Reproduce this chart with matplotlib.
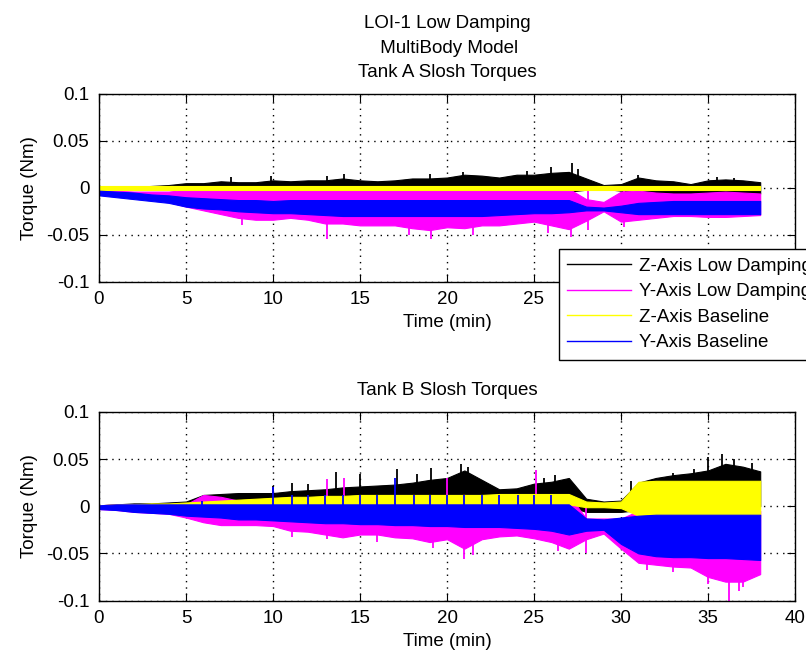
import numpy as np
import matplotlib
matplotlib.use("Agg")
import matplotlib.pyplot as plt
from matplotlib.lines import Line2D

plt.rcParams['font.family'] = ['Liberation Sans', 'DejaVu Sans']

# ---------------- data ----------------
time_min = list(range(0, 39))  # 0 .. 38 min

# Tank A envelopes (Nm)
a_zlow_hi = [0.001, 0.001, 0.001, 0.002, 0.003, 0.005, 0.005, 0.007, 0.006, 0.006,
             0.008, 0.007, 0.008, 0.008, 0.010, 0.008, 0.007, 0.008, 0.010, 0.010,
             0.011, 0.014, 0.013, 0.011, 0.014, 0.014, 0.016, 0.017, 0.010, 0.003,
             0.004, 0.011, 0.008, 0.007, 0.004, 0.008, 0.009, 0.008, 0.006]
a_zlow_lo = [0.000, -0.001, -0.001, -0.002, -0.002, -0.003, -0.003, -0.004, -0.004, -0.004,
             -0.004, -0.004, -0.004, -0.004, -0.004, -0.004, -0.004, -0.004, -0.004, -0.004,
             -0.004, -0.004, -0.004, -0.004, -0.004, -0.004, -0.004, -0.004, -0.002, -0.001,
             -0.003, -0.006, -0.006, -0.006, -0.006, -0.008, -0.008, -0.008, -0.006]
a_ylow_hi = [-0.002, -0.003, -0.004, -0.004, -0.004, -0.002, -0.001, -0.001, -0.001, -0.001,
             -0.001, -0.001, -0.001, -0.001, -0.001, -0.001, -0.001, -0.001, -0.001, -0.001,
             -0.001, -0.001, -0.001, -0.001, -0.001, -0.001, -0.001, -0.001, -0.012, -0.015,
             -0.004, -0.003, -0.005, -0.006, -0.006, -0.005, -0.004, -0.005, -0.006]
a_ylow_lo = [-0.006, -0.008, -0.010, -0.012, -0.015, -0.020, -0.024, -0.028, -0.032, -0.034,
             -0.034, -0.032, -0.034, -0.038, -0.038, -0.040, -0.040, -0.040, -0.043, -0.045,
             -0.042, -0.043, -0.040, -0.040, -0.038, -0.036, -0.040, -0.044, -0.035, -0.025,
             -0.036, -0.034, -0.032, -0.030, -0.030, -0.031, -0.031, -0.030, -0.029]
a_zbase_hi = [0.002] * 39
a_zbase_lo = [-0.002] * 39
a_ybase_hi = [-0.003, -0.004, -0.005, -0.007, -0.008, -0.010, -0.011, -0.012, -0.013, -0.013,
              -0.014, -0.013, -0.013, -0.013, -0.013, -0.013, -0.013, -0.013, -0.013, -0.013,
              -0.013, -0.013, -0.013, -0.013, -0.013, -0.013, -0.013, -0.013, -0.020, -0.021,
              -0.019, -0.016, -0.015, -0.014, -0.014, -0.014, -0.014, -0.014, -0.014]
a_ybase_lo = [-0.008, -0.010, -0.012, -0.014, -0.016, -0.020, -0.022, -0.023, -0.025, -0.026,
              -0.027, -0.027, -0.028, -0.029, -0.030, -0.030, -0.030, -0.030, -0.030, -0.030,
              -0.030, -0.030, -0.030, -0.029, -0.028, -0.027, -0.027, -0.026, -0.024, -0.024,
              -0.026, -0.028, -0.028, -0.028, -0.028, -0.028, -0.028, -0.028, -0.028]

# Tank A spikes (time min, torque Nm)
a_zlow_spike_t = [7.6, 9.9, 13.1, 14.1, 19.0, 20.9, 24.6, 26.0, 27.2, 27.5, 31.0, 35.5, 36.5]
a_zlow_spike_v = [0.012, 0.013, 0.013, 0.015, 0.015, 0.017, 0.018, 0.022, 0.026, 0.020, 0.014, 0.012, 0.011]
a_ylow_spike_t = [8.2, 13.1, 17.8, 19.1, 21.5, 25.8, 27.1, 28.1, 30.2]
a_ylow_spike_v = [-0.040, -0.055, -0.050, -0.054, -0.050, -0.048, -0.052, -0.045, -0.042]

# Tank B envelopes (Nm)
b_zlow_hi = [0.001, 0.002, 0.003, 0.003, 0.004, 0.005, 0.012, 0.013, 0.014, 0.014,
             0.014, 0.016, 0.017, 0.018, 0.020, 0.021, 0.022, 0.023, 0.025, 0.028,
             0.030, 0.038, 0.028, 0.018, 0.019, 0.024, 0.026, 0.030, 0.008, 0.005,
             0.006, 0.025, 0.030, 0.033, 0.035, 0.038, 0.045, 0.042, 0.037]
b_zlow_lo = [0.000] * 28 + [-0.006, -0.006, -0.006, -0.004] + [0.000] * 7
b_ylow_hi = [0.001, 0.002, 0.002, 0.002, 0.002, 0.002, 0.012, 0.010, 0.006, 0.007,
             0.008, 0.009, 0.009, 0.010, 0.010, 0.011, 0.011, 0.011, 0.011, 0.011,
             0.011, 0.012, 0.011, 0.012, 0.012, 0.012, 0.012, 0.012, -0.013, -0.013,
             -0.013, -0.005, -0.005, -0.005, -0.005, -0.005, -0.005, -0.005, -0.005]
b_ylow_lo = [-0.003, -0.004, -0.006, -0.007, -0.008, -0.012, -0.017, -0.020, -0.020, -0.020,
             -0.021, -0.026, -0.027, -0.030, -0.033, -0.030, -0.030, -0.033, -0.034, -0.038,
             -0.035, -0.045, -0.035, -0.032, -0.031, -0.034, -0.038, -0.045, -0.035, -0.029,
             -0.045, -0.060, -0.062, -0.064, -0.065, -0.075, -0.080, -0.080, -0.072]
b_zbase_hi = [0.001, 0.002, 0.002, 0.003, 0.003, 0.004, 0.005, 0.006, 0.007, 0.008,
              0.009, 0.010, 0.010, 0.011, 0.011, 0.012, 0.012, 0.012, 0.012, 0.012,
              0.012, 0.012, 0.012, 0.013, 0.013, 0.013, 0.013, 0.013, 0.005, 0.004,
              0.005, 0.026, 0.027, 0.027, 0.027, 0.027, 0.027, 0.027, 0.027]
b_zbase_lo = [-0.001] + [0.001] * 13 + [0.002] * 14 + [-0.001, -0.001, -0.002,
              -0.010, -0.012, -0.011, -0.011, -0.011, -0.011, -0.011, -0.011]
b_ybase_hi = [0.001] + [0.002] * 27 + [-0.013, -0.014, -0.012, -0.010,
              -0.009, -0.009, -0.009, -0.009, -0.009, -0.009, -0.009]
b_ybase_lo = [-0.003, -0.004, -0.006, -0.007, -0.008, -0.010, -0.011, -0.012, -0.014, -0.014,
              -0.015, -0.016, -0.017, -0.018, -0.018, -0.019, -0.019, -0.020, -0.020, -0.021,
              -0.021, -0.022, -0.022, -0.022, -0.023, -0.024, -0.026, -0.030, -0.026, -0.025,
              -0.040, -0.050, -0.053, -0.054, -0.054, -0.055, -0.055, -0.056, -0.057]

# Tank B spikes
b_zlow_spike_t = [10.0, 11.1, 12.0, 13.6, 15.0, 17.1, 18.3, 19.1, 20.8, 21.2, 25.6, 26.2,
                  30.6, 33.0, 34.2, 35.0, 35.8, 36.5, 37.5]
b_zlow_spike_v = [0.022, 0.025, 0.024, 0.036, 0.034, 0.039, 0.034, 0.041, 0.045, 0.042, 0.030, 0.033,
                  0.027, 0.035, 0.040, 0.052, 0.055, 0.050, 0.046]
b_ylow_up_spike_t = [13.1, 14.1, 20.0, 25.1]
b_ylow_up_spike_v = [0.029, 0.030, 0.030, 0.038]
b_ylow_spike_t = [11.1, 13.1, 16.0, 19.2, 21.0, 21.5, 26.4, 28.0, 31.5, 33.0, 35.0, 36.2, 36.8, 37.0]
b_ylow_spike_v = [-0.033, -0.035, -0.038, -0.044, -0.056, -0.052, -0.048, -0.050, -0.068, -0.070,
                  -0.083, -0.100, -0.090, -0.086]
b_ybase_spike_t = [5.9, 10.0, 11.1, 12.0, 13.0, 14.0, 15.0, 16.0, 17.0, 18.1, 19.0, 20.0,
                   21.0, 22.0, 23.0, 24.1, 25.0, 26.0]
b_ybase_spike_v = [0.006, 0.020, 0.012, 0.012, 0.012, 0.012, 0.012, 0.012, 0.030, 0.012, 0.012, 0.012,
                   0.012, 0.012, 0.012, 0.012, 0.012, 0.012]

series_labels = ['Z-Axis Low Damping', 'Y-Axis Low Damping', 'Z-Axis Baseline', 'Y-Axis Baseline']
series_colors = ['#000000', '#ff00ff', '#ffff00', '#0000ff']

x_ticks = [0, 5, 10, 15, 20, 25, 30, 35, 40]
y_ticks = [-0.1, -0.05, 0, 0.05, 0.1]
y_ticklabels = ['-0.1', '-0.05', '0', '0.05', '0.1']

# ---------------- figure ----------------
W, H = 806, 658
fig = plt.figure(figsize=(W / 100, H / 100), dpi=100)
fig.patch.set_facecolor('white')

L = 99 / W
AW = 696 / W
ax_a = fig.add_axes([L, 1 - 281.7 / H, AW, 187.7 / H])
ax_b = fig.add_axes([L, 1 - 600.5 / H, AW, 188.5 / H])

FS = 13.5
t = np.array(time_min, dtype=float)


def draw_panel(ax, env, spikes):
    for k, (hi, lo) in enumerate(env):
        ax.fill_between(t, lo, hi, color=series_colors[k], lw=0.8,
                        edgecolor=series_colors[k], zorder=2 + 2 * k)
        for (st, sv) in spikes.get(k, []):
            ax.vlines(st, 0, sv, color=series_colors[k], lw=1.3, zorder=2 + 2 * k + 0.5)


def style_axes(ax, title, title_pad):
    ax.set_xlim(0, 40)
    ax.set_ylim(-0.1, 0.1)
    ax.set_xticks(x_ticks)
    ax.set_xticklabels([str(v) for v in x_ticks])
    ax.set_yticks(y_ticks)
    ax.set_yticklabels(y_ticklabels)
    ax.tick_params(direction='in', length=6, width=0.8, top=True, right=True,
                   labelsize=FS, pad=7)
    ax.grid(True, color='black', linestyle=(0, (1, 3.6)), linewidth=1.0, zorder=1)
    ax.set_axisbelow(False)
    for sp in ax.spines.values():
        sp.set_linewidth(1.0)
        sp.set_zorder(20)
    ax.set_xlabel('Time (min)', fontsize=FS, labelpad=4)
    ax.set_ylabel('Torque (Nm)', fontsize=FS, labelpad=6)
    ax.set_title(title, fontsize=FS, pad=title_pad, linespacing=1.6)


env_a = [(a_zlow_hi, a_zlow_lo), (a_ylow_hi, a_ylow_lo),
         (a_zbase_hi, a_zbase_lo), (a_ybase_hi, a_ybase_lo)]
spk_a = {0: list(zip(a_zlow_spike_t, a_zlow_spike_v)),
         1: list(zip(a_ylow_spike_t, a_ylow_spike_v))}
env_b = [(b_zlow_hi, b_zlow_lo), (b_ylow_hi, b_ylow_lo),
         (b_zbase_hi, b_zbase_lo), (b_ybase_hi, b_ybase_lo)]
spk_b = {0: list(zip(b_zlow_spike_t, b_zlow_spike_v)),
         1: list(zip(b_ylow_spike_t, b_ylow_spike_v)) + list(zip(b_ylow_up_spike_t, b_ylow_up_spike_v)),
         3: list(zip(b_ybase_spike_t, b_ybase_spike_v))}

draw_panel(ax_a, env_a, spk_a)
draw_panel(ax_b, env_b, spk_b)

style_axes(ax_a, 'LOI-1 Low Damping\n MultiBody Model\nTank A Slosh Torques', 12)
style_axes(ax_b, 'Tank B Slosh Torques', 12)
for ax in (ax_a, ax_b):
    for gl in ax.get_xgridlines() + ax.get_ygridlines():
        gl.set_zorder(1)

handles = [Line2D([], [], color=c, lw=1.0) for c in series_colors]
leg = fig.legend(handles, series_labels, loc='upper left',
                 bbox_to_anchor=(559 / W, 1 - 249 / H), bbox_transform=fig.transFigure,
                 fontsize=FS, frameon=True, fancybox=False, shadow=False, framealpha=1,
                 edgecolor='black', borderpad=0.45, labelspacing=0.45,
                 handlelength=3.4, handletextpad=0.4, borderaxespad=0)
leg.get_frame().set_linewidth(1.0)
leg.set_zorder(50)

fig.savefig('out.png', dpi=100, facecolor='white')
